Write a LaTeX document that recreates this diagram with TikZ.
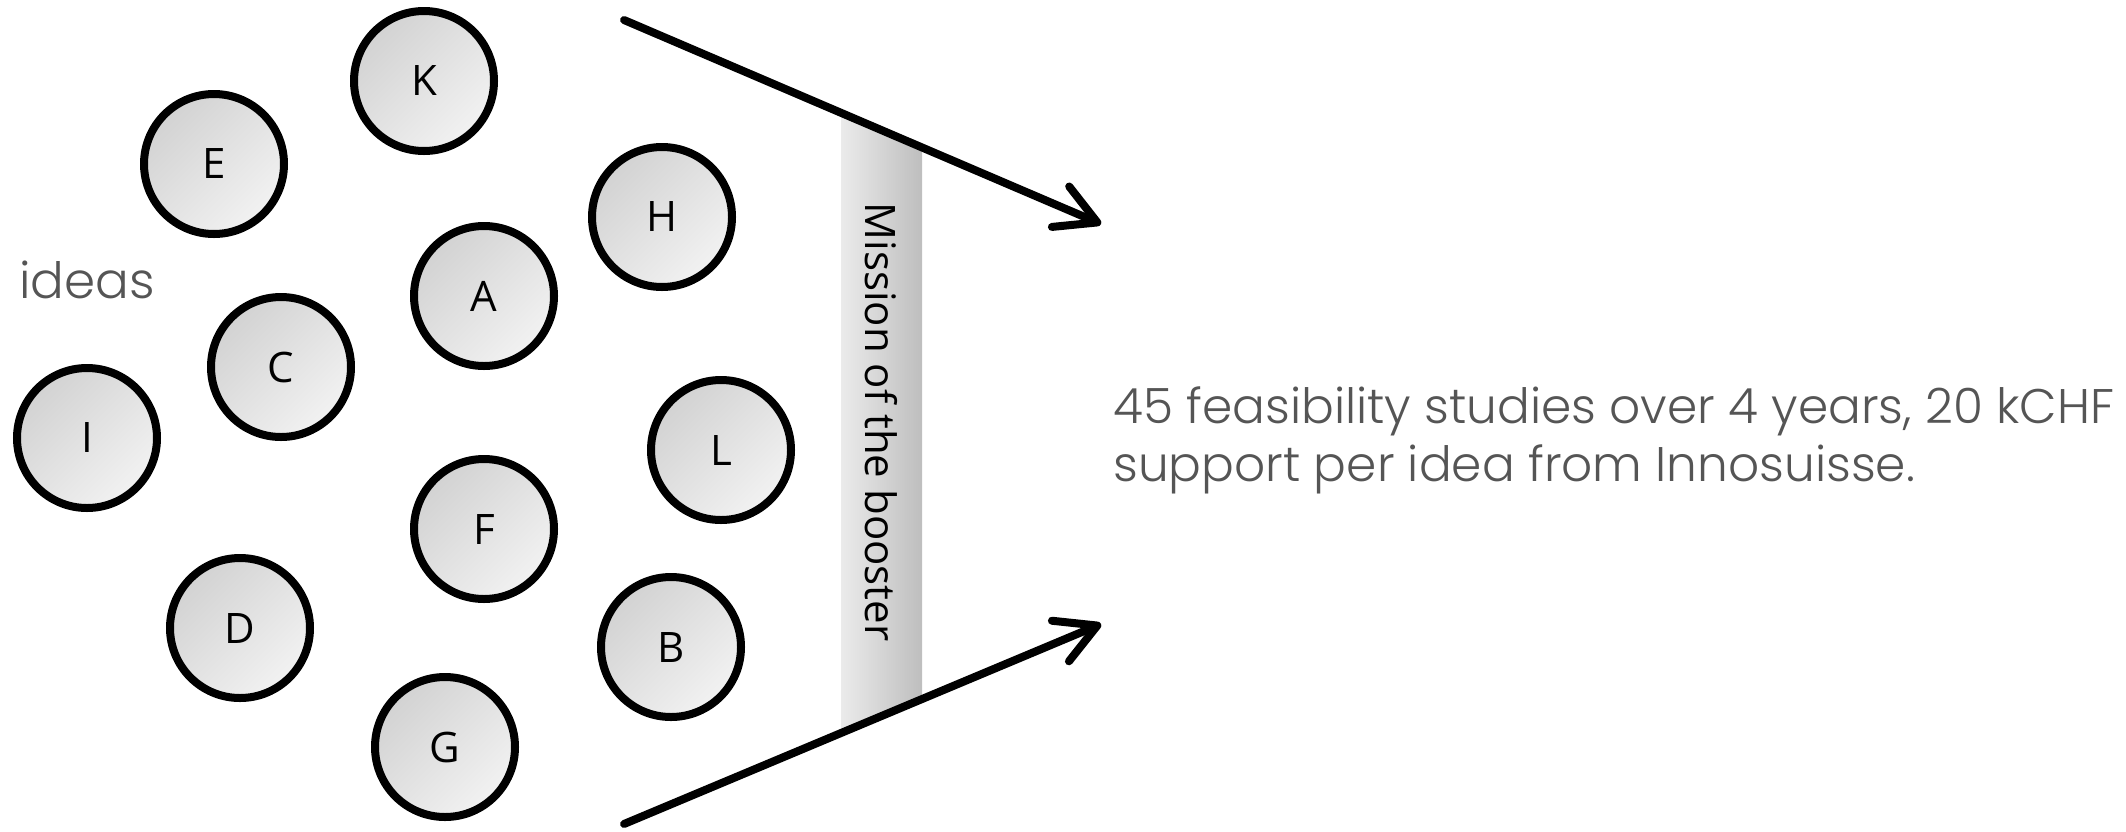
\documentclass[tikz,border=0pt]{standalone}
\usepackage{fontspec}
\setmainfont{Open Sans}
\newfontfamily\notefont{Poppins Light}
\usetikzlibrary{arrows.meta}
\definecolor{ideadark}{HTML}{D2D2D2}
\definecolor{idealight}{HTML}{F2F2F2}
\definecolor{bandlight}{HTML}{EBEBEB}
\definecolor{banddark}{HTML}{BEBEBE}
\definecolor{notegray}{HTML}{555555}

\begin{document}
\begin{tikzpicture}[x=0.5pt, y=-0.5pt,
            idea/.style={circle, draw, line width=4pt, minimum size=70pt, inner sep=0pt, top color=ideadark, bottom color=idealight, shading angle=45, font=\fontsize{21}{21}\selectfont},
            arrow/.style={-{Straight Barb[length=20pt, width=22pt, round]}, line width=4pt, line cap=round},
            note/.style={font=\notefont\fontsize{24.3}{29}\selectfont, text=notegray, align=left, inner sep=0pt}
            ]

            % Canvas
            \useasboundingbox (0,0) rectangle (2126,831);

            % Arrow ends
            \coordinate (topstart) at (624,20);
            \coordinate (topend) at (1101,224);
            \coordinate (botstart) at (624,824);
            \coordinate (botend) at (1101,624);

            % Booster band
            \begin{scope}
                \clip (topstart) -- (topend) -- (botend) -- (botstart) -- cycle;
                \shade[left color=bandlight, right color=banddark] (841,0) rectangle (922,831);
            \end{scope}
            \node[rotate=-90, font=\fontsize{21}{21}\selectfont] (mission) at (881,422) {Mission of the booster};

            % Ideas
            \node[idea] (k) at (424,81) {K};
            \node[idea] (e) at (214,164) {E};
            \node[idea] (h) at (662,217) {H};
            \node[idea] (a) at (484,296) {A};
            \node[idea] (c) at (281,367) {C};
            \node[idea] (i) at (87,438) {I};
            \node[idea] (l) at (721,450) {L};
            \node[idea] (f) at (484,529) {F};
            \node[idea] (d) at (240,628) {D};
            \node[idea] (b) at (671,647) {B};
            \node[idea] (g) at (445,747) {G};

            % Labels
            \node[note, anchor=base west, font=\notefont\fontsize{25}{29}\selectfont] (ideas) at (19,298) {ideas};
            \node[note, anchor=base west] (result) at (1113,481) {45 feasibility studies over 4 years, 20 kCHF\\support per idea from Innosuisse.};

            % Arrows
            \draw[arrow] (topstart) -- (topend);
            \draw[arrow] (botstart) -- (botend);

        \end{tikzpicture}
\end{document}
